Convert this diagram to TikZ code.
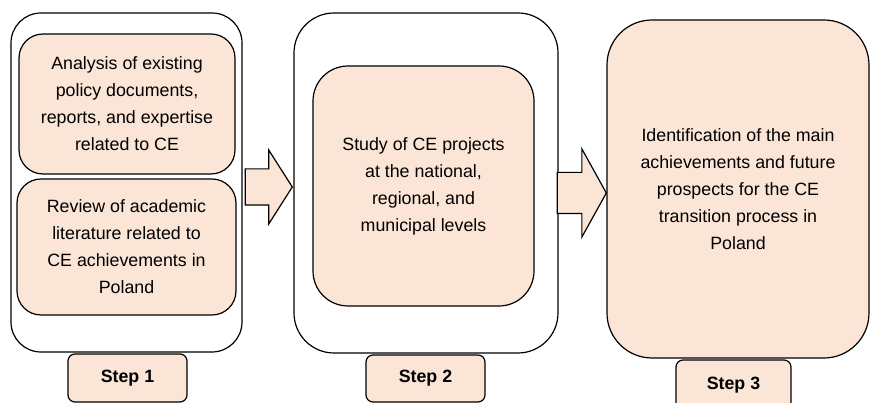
\documentclass[tikz,border=0pt]{standalone}
\usepackage{fontspec}
\setmainfont{Liberation Sans}
\usetikzlibrary{shapes.arrows}
\definecolor{peach}{HTML}{FBE5D6}
\begin{document}
\begin{tikzpicture}[
  x=1pt, y=1pt,
  outer/.style={rectangle, draw, line width=1.2pt, rounded corners=#1, inner sep=0pt},
  inner/.style={rectangle, draw, fill=peach, line width=1.2pt, rounded corners=#1, align=center, inner sep=0pt,
    font=\fontsize{17.8}{27}\selectfont},
  steplabel/.style={rectangle, draw, fill=peach, line width=1.2pt, rounded corners=7pt, inner sep=0pt,
    font=\fontsize{17.8}{27}\selectfont\bfseries},
  blockarrow/.style={single arrow, draw, fill=peach, line width=1.2pt, inner xsep=0pt, anchor=tip},
  font=\fontsize{17.8}{27}\selectfont
]
\useasboundingbox (0,0) rectangle (871,403);

% Step 1
\node (frame1) [outer=30pt, minimum width=231pt, minimum height=339pt] at (126.5,220.5) {};
\node (policy) [inner=24pt, minimum width=216pt, minimum height=140pt] at (127,299)
  {Analysis of existing\\policy documents,\\reports, and expertise\\related to CE};
\node (review) [inner=24pt, minimum width=219pt, minimum height=136pt] at (126.5,156)
  {Review of academic\\literature related to\\CE achievements in\\Poland};
\node (step1) [steplabel, minimum width=119pt, minimum height=48pt] at (127.5,25) {Step 1};

% Step 2
\node (frame2) [outer=40pt, minimum width=264pt, minimum height=340pt] at (426,220) {};
\node (projects) [inner=35pt, minimum width=221pt, minimum height=240pt] at (423.5,217)
  {\raisebox{5pt}{\parbox{200pt}{\centering Study of CE projects\\at the national,\\regional, and\\municipal levels}}};
\node (step2) [steplabel, minimum width=119pt, minimum height=47pt] at (425.5,24.5) {Step 2};

% Step 3
\node (outcome) [inner=45pt, minimum width=262pt, minimum height=338pt] at (738,214)
  {\raisebox{5pt}{\parbox{240pt}{\centering Identification of the main\\achievements and future\\prospects for the CE\\transition process in\\Poland}}};
\node (step3) [steplabel, minimum width=115pt, minimum height=50pt] at (733.5,18) {Step 3};

% Arrows between steps
\node (arr1) [blockarrow, minimum height=47pt, inner ysep=17.5pt,
  single arrow head extend=19pt, single arrow tip angle=115] at (293,216) {};
\node (arr2) [blockarrow, minimum height=49pt, inner ysep=20pt,
  single arrow head extend=23.5pt, single arrow tip angle=122] at (607,210) {};

\end{tikzpicture}
\end{document}
